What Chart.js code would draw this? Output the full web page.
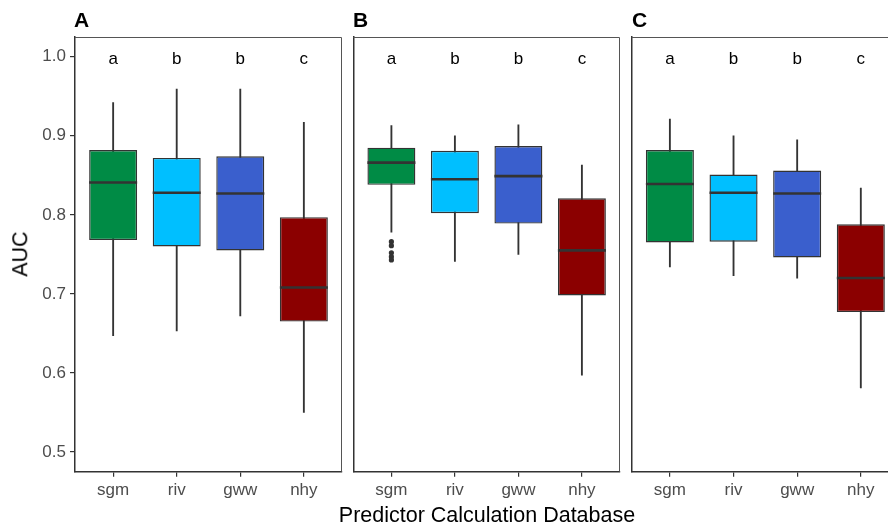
<!DOCTYPE html>
<html>
<head>
<meta charset="utf-8">
<script src="https://cdn.jsdelivr.net/npm/chart.js@4.4.1/dist/chart.umd.min.js"></script>
<style>
  html, body { margin: 0; padding: 0; background: #ffffff; }
  body { width: 888px; height: 527px; overflow: hidden; position: relative; font-family: "Liberation Sans", Arial, sans-serif; }
  canvas { position: absolute; top: 0; }
  .plabel { position: absolute; font-weight: bold; font-size: 21px; line-height: 21px; color: #000; }
  .xtitle { position: absolute; left: 487px; top: 505px; transform: translateX(-50%); font-size: 21.5px; line-height: 21.5px; white-space: nowrap; color: #000; }
  .ytitle { position: absolute; left: 21px; top: 254px; transform: translate(-50%, -50%) rotate(-90deg); font-size: 21.5px; line-height: 21.5px; white-space: nowrap; color: #000; }
</style>
</head>
<body>
<canvas id="cA" width="346" height="527" style="left:0px"></canvas>
<canvas id="cB" width="281" height="527" style="left:343px"></canvas>
<canvas id="cC" width="281" height="527" style="left:622px"></canvas>
<div class="plabel" style="left:74px; top:9px;">A</div>
<div class="plabel" style="left:353px; top:9px;">B</div>
<div class="plabel" style="left:632px; top:9px;">C</div>
<div class="ytitle">AUC</div>
<div class="xtitle">Predictor Calculation Database</div>
<script>
// ---- data ----
const categories = ['sgm', 'riv', 'gww', 'nhy'];
const letters = ['a', 'b', 'b', 'c'];
const letterY = 1.0;
const yTicks = [0.5, 0.6, 0.7, 0.8, 0.9, 1.0];
const boxColors = ['#008B45', '#00BFFF', '#3A5FCD', '#8B0000'];

// Panel A
const aMin = [0.647, 0.653, 0.672, 0.550];
const aQ1  = [0.768, 0.760, 0.755, 0.665];
const aMed = [0.841, 0.828, 0.827, 0.708];
const aQ3  = [0.882, 0.872, 0.874, 0.797];
const aMax = [0.942, 0.959, 0.959, 0.917];
const aOut = [[], [], [], []];

// Panel B
const bMin = [0.778, 0.741, 0.750, 0.597];
const bQ1  = [0.838, 0.802, 0.789, 0.698];
const bMed = [0.866, 0.845, 0.849, 0.755];
const bQ3  = [0.885, 0.881, 0.887, 0.821];
const bMax = [0.913, 0.900, 0.914, 0.863];
const bOut = [[0.766, 0.761, 0.752, 0.747, 0.743], [], [], []];

// Panel C
const cMin = [0.734, 0.723, 0.720, 0.581];
const cQ1  = [0.765, 0.766, 0.746, 0.677];
const cMed = [0.839, 0.828, 0.827, 0.720];
const cQ3  = [0.882, 0.851, 0.856, 0.788];
const cMax = [0.921, 0.900, 0.895, 0.834];
const cOut = [[], [], [], []];

// ---- helpers ----
const DARK = '#333333';
const TICKGREY = '#4D4D4D';

const framePlugin = {
  id: 'frame',
  beforeDatasetsDraw(chart) {
    const a = chart.chartArea, ctx = chart.ctx;
    ctx.save();
    ctx.strokeStyle = '#555555';
    ctx.lineWidth = 1;
    ctx.beginPath();
    ctx.moveTo(a.left, a.top + 0.5);
    ctx.lineTo(a.right - 0.5, a.top + 0.5);
    ctx.lineTo(a.right - 0.5, a.bottom);
    ctx.stroke();
    ctx.restore();
  }
};

const letterPlugin = {
  id: 'letters',
  afterDatasetsDraw(chart) {
    const xs = chart.scales.x, ys = chart.scales.y, ctx = chart.ctx;
    ctx.save();
    ctx.font = '17px "Liberation Sans", Arial, sans-serif';
    ctx.fillStyle = '#000000';
    ctx.textAlign = 'center';
    ctx.textBaseline = 'alphabetic';
    letters.forEach((t, i) => {
      ctx.fillText(t, xs.getPixelForValue(i), ys.getPixelForValue(letterY) + 7);
    });
    ctx.restore();
  }
};

function makePanel(id, mins, q1s, meds, q3s, maxs, outs, showY, yWidth) {
  const whiskers = categories.map((c, i) => ({ x: i, y: [mins[i], maxs[i]] }));
  const boxes = categories.map((c, i) => ({ x: i, y: [q1s[i], q3s[i]] }));
  const medians = categories.map((c, i) => ({ x: i, y: meds[i] }));
  const outliers = [];
  outs.forEach((arr, i) => arr.forEach(v => outliers.push({ x: i, y: v })));

  new Chart(document.getElementById(id), {
    type: 'bar',
    data: {
      datasets: [
        {
          type: 'line', data: outliers, showLine: false, order: 0, clip: false,
          pointStyle: 'circle', pointRadius: 2.6, pointBackgroundColor: DARK,
          pointBorderColor: DARK, pointBorderWidth: 0
        },
        {
          type: 'line', data: medians, showLine: false, order: 1, clip: false,
          pointStyle: 'line', pointRadius: 24, pointBorderWidth: 2.6,
          pointBorderColor: DARK
        },
        {
          type: 'bar', data: boxes, order: 2, grouped: false,
          backgroundColor: boxColors, borderColor: DARK, borderWidth: 1.4,
          borderSkipped: false, barPercentage: 0.755, categoryPercentage: 1.0
        },
        {
          type: 'bar', data: whiskers, order: 3, grouped: false,
          backgroundColor: DARK, borderWidth: 0, barThickness: 1.2
        }
      ]
    },
    options: {
      responsive: false,
      animation: false,
      events: [],
      layout: { autoPadding: false, padding: { top: 37, right: 4, bottom: 0, left: 0 } },
      plugins: { legend: { display: false }, tooltip: { enabled: false } },
      scales: {
        x: {
          type: 'linear', min: -0.6, max: 3.6, offset: false,
          afterBuildTicks: (s) => { s.ticks = categories.map((c, i) => ({ value: i })); },
          afterFit: (s) => { s.height = 55.3; },
          ticks: {
            autoSkip: false, maxRotation: 0, padding: 3,
            color: TICKGREY, font: { family: '"Liberation Sans", Arial, sans-serif', size: 17 },
            callback: (v) => categories[Math.round(v)]
          },
          grid: { display: true, offset: false, drawOnChartArea: false, drawTicks: true, tickLength: 5, color: DARK, lineWidth: 1.2 },
          border: { display: true, color: DARK, width: 1.5 }
        },
        y: {
          type: 'linear', min: 0.475, max: 1.025,
          afterBuildTicks: (s) => { s.ticks = yTicks.map(v => ({ value: v })); },
          afterFit: (s) => { s.width = yWidth; },
          ticks: {
            display: showY, padding: 4, color: TICKGREY,
            font: { family: '"Liberation Sans", Arial, sans-serif', size: 17 },
            callback: (v) => v.toFixed(1)
          },
          grid: { display: showY, drawOnChartArea: false, drawTicks: true, tickLength: 5, color: DARK, lineWidth: 1.2 },
          border: { display: true, color: DARK, width: 1.5 }
        }
      }
    },
    plugins: [framePlugin, letterPlugin]
  });
}

makePanel('cA', aMin, aQ1, aMed, aQ3, aMax, aOut, true, 75);
makePanel('cB', bMin, bQ1, bMed, bQ3, bMax, bOut, false, 10.3);
makePanel('cC', cMin, cQ1, cMed, cQ3, cMax, cOut, false, 9.7);
</script>
</body>
</html>
